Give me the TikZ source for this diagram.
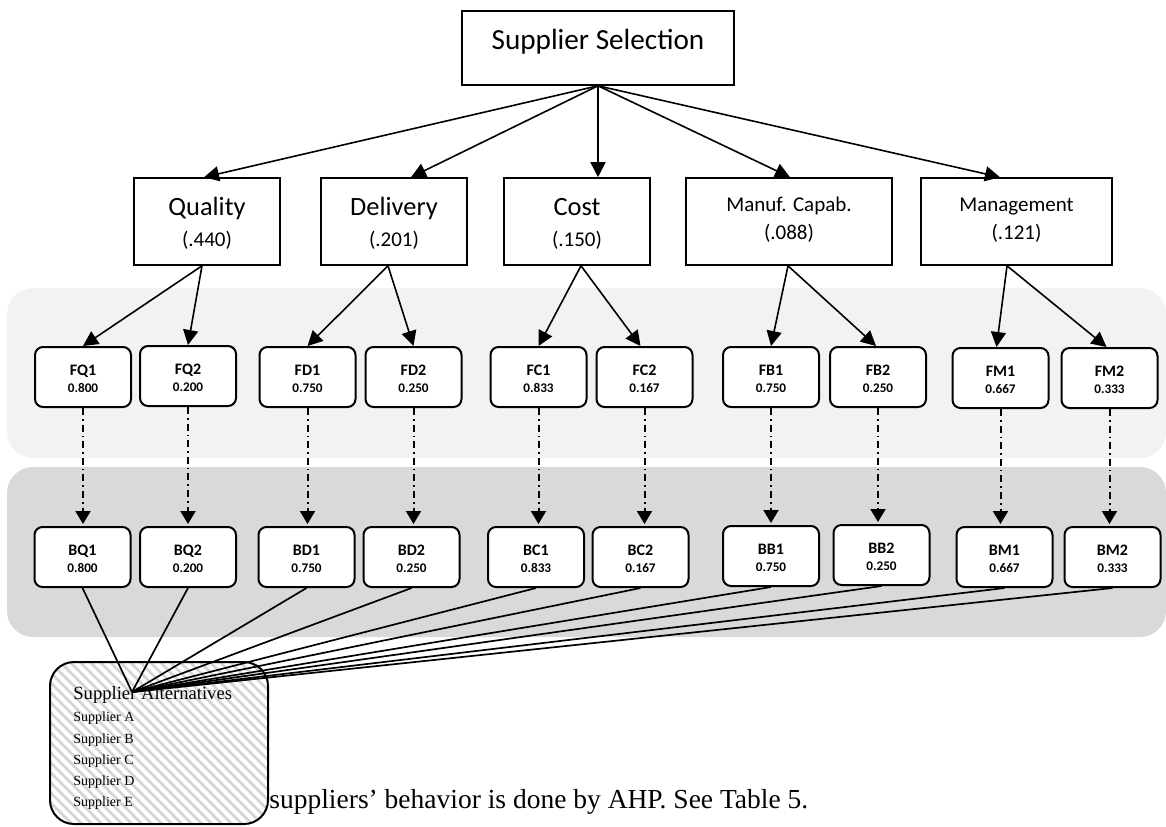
\documentclass[tikz,border=0pt]{standalone}
\usepackage{fontspec}
\setmainfont{Carlito}
\newfontfamily\timesf{Liberation Serif}
\usetikzlibrary{arrows.meta,calc}
\definecolor{bandlight}{HTML}{F2F2F2}
\definecolor{banddark}{HTML}{D9D9D9}
\definecolor{stripecol}{HTML}{D4D4D4}
\begin{document}
\begin{tikzpicture}[x=0.5pt,y=-0.5pt,
  critbox/.style={draw, line width=0.8pt, inner sep=0pt, minimum height=43.5pt},
  subbox/.style={draw, line width=1pt, rounded corners=4pt, fill=white, minimum width=48pt, minimum height=30pt, inner sep=0pt},
  subtitle/.style={anchor=base, inner sep=0pt, font=\fontsize{8}{9}\selectfont\bfseries},
  subnum/.style={anchor=base, inner sep=0pt, font=\fontsize{6.6}{8}\selectfont\bfseries},
  bigtxt/.style={anchor=base, inner sep=0pt, font=\fontsize{13.2}{15}\selectfont},
  smalltxt/.style={anchor=base, inner sep=0pt, font=\fontsize{10.5}{12}\selectfont},
  arr/.style={line width=0.8pt, -{Triangle[length=7.5pt,width=7.5pt]}},
  dasharr/.style={line width=1pt, dash pattern=on 3.5pt off 2pt on 0.8pt off 2pt, -{Triangle[length=6.5pt,width=7.5pt]}, shorten >=1pt},
  link/.style={line width=0.85pt},
  stripe/.style={line width=1.4pt, stripecol}
]
\useasboundingbox (0,0) rectangle (1166,826);

% background bands
\fill[bandlight, rounded corners=13pt] (7,288) rectangle (1166,458);
\fill[banddark, rounded corners=13pt] (7,467) rectangle (1166,637);

% top node
\node[draw, line width=0.8pt, minimum width=136pt, minimum height=37pt, inner sep=0pt] (top) at (598,48) {};
\node[anchor=base, inner sep=0pt, font=\fontsize{14.6}{17}\selectfont] (topt) at (598,49) {Supplier Selection};

% criteria
\node[critbox, minimum width=73pt] (Q) at (207,221.5) {};
\node[critbox, minimum width=73pt] (D) at (394,221.5) {};
\node[critbox, minimum width=73pt] (C) at (577,221.5) {};
\node[critbox, minimum width=103pt] (M) at (789,221.5) {};
\node[critbox, minimum width=95.5pt] (G) at (1016.5,221.5) {};

\node[bigtxt] (Qt) at (207,215) {Quality};
\node[smalltxt] (Qn) at (207,246.5) {(.440)};
\node[bigtxt] (Dt) at (394,215) {Delivery};
\node[smalltxt] (Dn) at (394,246.5) {(.201)};
\node[bigtxt] (Ct) at (577,215) {Cost};
\node[smalltxt] (Cn) at (577,246.5) {(.150)};
\node[smalltxt] (Mt) at (789,211) {Manuf. Capab.};
\node[smalltxt] (Mn) at (789,239) {(.088)};
\node[smalltxt] (Gt) at (1016.5,211) {Management};
\node[smalltxt] (Gn) at (1016.5,239) {(.121)};

% top arrows
\draw[arr] (top.south) -- ($(Q.north)+(-3,0)$);
\draw[arr] (top.south) -- ($(D.north)+(17,0)$);
\draw[arr] (top.south) -- ($(C.north)+(21,0)$);
\draw[arr] (top.south) -- ($(M.north)+(1,0)$);
\draw[arr] (top.south) -- ($(G.north)+(-16.5,0)$);

% sub-criteria (F) and B boxes
\foreach \n/\x/\y/\v in {FQ1/83/377/0.800, FQ2/188/376/0.200, FD1/307.5/377/0.750, FD2/413.5/377/0.250,
  FC1/538.5/377/0.833, FC2/644.5/377/0.167, FB1/771/377/0.750, FB2/878/377/0.250,
  FM1/1000.5/378/0.667, FM2/1109.5/378/0.333,
  BQ1/82.5/557/0.800, BQ2/188/557/0.200, BD1/306.5/557/0.750, BD2/411.5/557/0.250,
  BC1/536/557/0.833, BC2/640.5/557/0.167, BB1/771/556/0.750, BB2/881.5/555/0.250,
  BM1/1004.5/557/0.667, BM2/1112.5/557/0.333}{
  \node[subbox] (\n) at (\x,\y) {};
  \node[subtitle] (\n t) at ($(\n.center)+(0,-2)$) {\n};
  \node[subnum] (\n v) at ($(\n.center)+(0,15)$) {\v};
}

% criteria to F arrows
\draw[arr] ($(Q.south)+(-5,0)$) -- (FQ1.north);
\draw[arr] ($(Q.south)+(-5,0)$) -- (FQ2.north);
\draw[arr] ($(D.south)+(-6,0)$) -- (FD1.north);
\draw[arr] ($(D.south)+(-6,0)$) -- (FD2.north);
\draw[arr] ($(C.south)+(4,0)$) -- (FC1.north);
\draw[arr] ($(C.south)+(4,0)$) -- ($(FC2.north)+(-4,0)$);
\draw[arr] ($(M.south)+(-1,0)$) -- (FB1.north);
\draw[arr] ($(M.south)+(-1,0)$) -- ($(FB2.north)+(-2,0)$);
\draw[arr] ($(G.south)+(-9.5,0)$) -- ($(FM1.north)+(-4,0)$);
\draw[arr] ($(G.south)+(-9.5,0)$) -- ($(FM2.north)+(-3,0)$);

% dash-dot arrows
\foreach \a/\b in {FQ1/BQ1, FQ2/BQ2, FD1/BD1, FD2/BD2, FC1/BC1, FC2/BC2, FB1/BB1, FB2/BB2, FM1/BM1, FM2/BM2}{
  \draw[dasharr] (\a.south) -- (\a.south |- \b.north);
}

% bottom sentence
\node[anchor=base west, inner sep=0pt, font=\timesf\fontsize{13.75}{16}\selectfont] (sent) at (269,808) {suppliers’ behavior is done by AHP. See Table 5.};

% supplier alternatives box
\begin{scope}
  \clip[rounded corners=12pt] (50,662) rectangle (268,824);
  \fill[white] (50,662) rectangle (268,824);
  \foreach \i in {0,...,42}{
    \draw[stripe] (\i*10-150,662) -- ++(175,175);
  }
\end{scope}
\node[draw, line width=1pt, rounded corners=12pt, minimum width=109pt, minimum height=81pt, inner sep=0pt] (alt) at (159,743) {};

\node[anchor=base west, inner sep=0pt, font=\timesf\fontsize{9.3}{11}\selectfont] (altt) at (73,699) {Supplier Alternatives};
\foreach \s/\yy in {A/721.7, B/743, C/764.2, D/785.5, E/806.7}{
  \node[anchor=base west, inner sep=0pt, font=\timesf\fontsize{7}{8}\selectfont] (sup\s) at (73,\yy) {Supplier \s};
}

% links to hub
\coordinate (hub) at (132,692);
\foreach \b in {BQ1,BQ2,BD1,BD2,BC1,BC2,BB1,BB2,BM1,BM2}{
  \draw[link] (\b.south) -- (hub);
}
\end{tikzpicture}
\end{document}
